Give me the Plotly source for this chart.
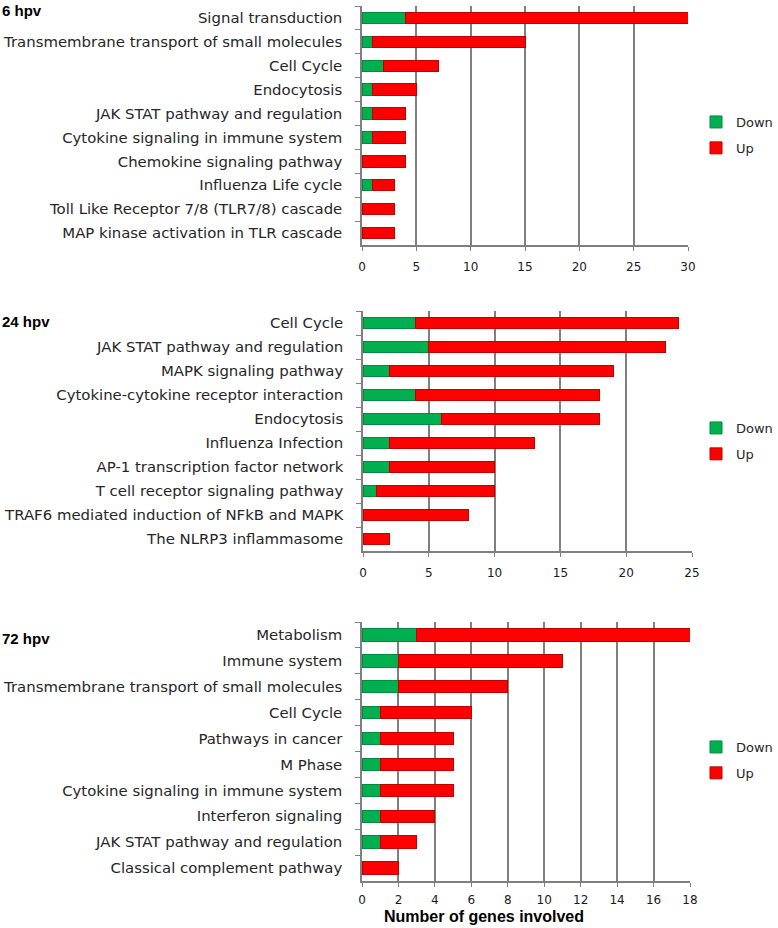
import plotly.graph_objects as go

W, H = 778, 928

# ---------------- data ----------------
cats_6 = ["Signal transduction", "Transmembrane transport of small molecules", "Cell Cycle",
          "Endocytosis", "JAK STAT pathway and regulation", "Cytokine signaling in immune system",
          "Chemokine signaling pathway", "Influenza Life cycle",
          "Toll Like Receptor 7/8 (TLR7/8) cascade", "MAP kinase activation in TLR cascade"]
down_6 = [4, 1, 2, 1, 1, 1, 0, 1, 0, 0]
up_6 = [26, 14, 5, 4, 3, 3, 4, 2, 3, 3]

cats_24 = ["Cell Cycle", "JAK STAT pathway and regulation", "MAPK signaling pathway",
           "Cytokine-cytokine receptor interaction", "Endocytosis", "Influenza Infection",
           "AP-1 transcription factor network", "T cell receptor signaling pathway",
           "TRAF6 mediated induction of NFkB and MAPK", "The NLRP3 inflammasome"]
down_24 = [4, 5, 2, 4, 6, 2, 2, 1, 0, 0]
up_24 = [20, 18, 17, 14, 12, 11, 8, 9, 8, 2]

cats_72 = ["Metabolism", "Immune system", "Transmembrane transport of small molecules",
           "Cell Cycle", "Pathways in cancer", "M Phase", "Cytokine signaling in immune system",
           "Interferon signaling", "JAK STAT pathway and regulation", "Classical complement pathway"]
down_72 = [3, 2, 2, 1, 1, 1, 1, 1, 1, 0]
up_72 = [15, 9, 6, 5, 4, 4, 4, 3, 2, 2]

panel_titles = ["6 hpv", "24 hpv", "72 hpv"]
x_ticks_6 = [0, 5, 10, 15, 20, 25, 30]
x_ticks_24 = [0, 5, 10, 15, 20, 25]
x_ticks_72 = [0, 2, 4, 6, 8, 10, 12, 14, 16, 18]
series_names = ["Down", "Up"]
x_title = "Number of genes involved"

# ---------------- layout geometry (pixels) ----------------
GREEN, RED = "#00B050", "#FF0000"
GREEN_EDGE, RED_EDGE = "#008A3E", "#C00000"
GRID = "#7F7F7F"

panels = [
    dict(cats=cats_6, down=down_6, up=up_6, ticks=x_ticks_6, xr=[0, 30],
         xpx=(362, 688), ypx=(6, 245), legy=122, titley=10),
    dict(cats=cats_24, down=down_24, up=up_24, ticks=x_ticks_24, xr=[0, 25],
         xpx=(363, 692), ypx=(311, 551), legy=428, titley=321),
    dict(cats=cats_72, down=down_72, up=up_72, ticks=x_ticks_72, xr=[0, 18],
         xpx=(362, 690), ypx=(622, 881), legy=747, titley=638),
]

fig = go.Figure()
layout = dict(
    width=W, height=H, margin=dict(l=0, r=0, t=0, b=0, autoexpand=False),
    paper_bgcolor="white", plot_bgcolor="white",
    barmode="stack", bargap=0.52, showlegend=True,
    font=dict(family="DejaVu Sans", size=13, color="#262626"),
    annotations=[],
)

for i, p in enumerate(panels):
    n = "" if i == 0 else str(i + 1)
    leg = "legend" if i == 0 else f"legend{i + 1}"
    for name, vals, col, edge in [(series_names[0], p["down"], GREEN, GREEN_EDGE),
                                  (series_names[1], p["up"], RED, RED_EDGE)]:
        fig.add_trace(go.Bar(
            x=vals, y=p["cats"], orientation="h", name=name,
            marker=dict(color=col, line=dict(color=edge, width=1)),
            xaxis="x" + n, yaxis="y" + n, legend=leg,
            legendgroup=f"{name}{i}", hoverinfo="x+y+name",
        ))
    x0, x1 = p["xpx"]
    y0, y1 = p["ypx"]
    layout["xaxis" + n] = dict(
        domain=[x0 / W, x1 / W], anchor="y" + n, range=p["xr"],
        tickvals=p["ticks"], ticks="outside", ticklen=4, tickcolor=GRID,
        showline=True, linecolor=GRID, linewidth=1.5,
        showgrid=True, gridcolor=GRID, gridwidth=1.5, zeroline=False,
        tickfont=dict(family="DejaVu Sans", size=12, color="#1a1a1a"),
        ticklabelstandoff=6 if i < 2 else 3, fixedrange=True, automargin=False,
    )
    layout["yaxis" + n] = dict(
        domain=[1 - y1 / H, 1 - y0 / H], anchor="x" + n,
        type="category", categoryorder="array", categoryarray=p["cats"],
        autorange="reversed", tickson="boundaries", ticks="outside", ticklen=5,
        tickcolor=GRID, showline=True, linecolor=GRID, linewidth=1.5,
        showgrid=False, ticklabelstandoff=15, fixedrange=True, automargin=False,
        tickfont=dict(family="DejaVu Sans", size=14.9, color="#262626"),
    )
    layout[leg] = dict(
        x=696 / W, xanchor="left", y=1 - (p["legy"] - 15) / H, yanchor="top",
        traceorder="grouped", tracegroupgap=6, bgcolor="rgba(0,0,0,0)",
        font=dict(family="DejaVu Sans", size=13, color="#262626"),
        itemwidth=30,
    )
    layout["annotations"].append(dict(
        text=f"<b>{panel_titles[i]}</b>", xref="paper", yref="paper",
        x=0, y=1 - p["titley"] / H, xanchor="left", yanchor="middle",
        showarrow=False, font=dict(family="Liberation Sans", size=15, color="black"),
    ))

layout["annotations"].append(dict(
    text=f"<b>{x_title}</b>", xref="paper", yref="paper",
    x=484 / W, y=1 - 916 / H, xanchor="center", yanchor="middle",
    showarrow=False, font=dict(family="Liberation Sans", size=16, color="black"),
))

fig.update_layout(**layout)
fig.write_html("out.html", config={"displayModeBar": False},
               post_script="document.body.style.margin='0';")
